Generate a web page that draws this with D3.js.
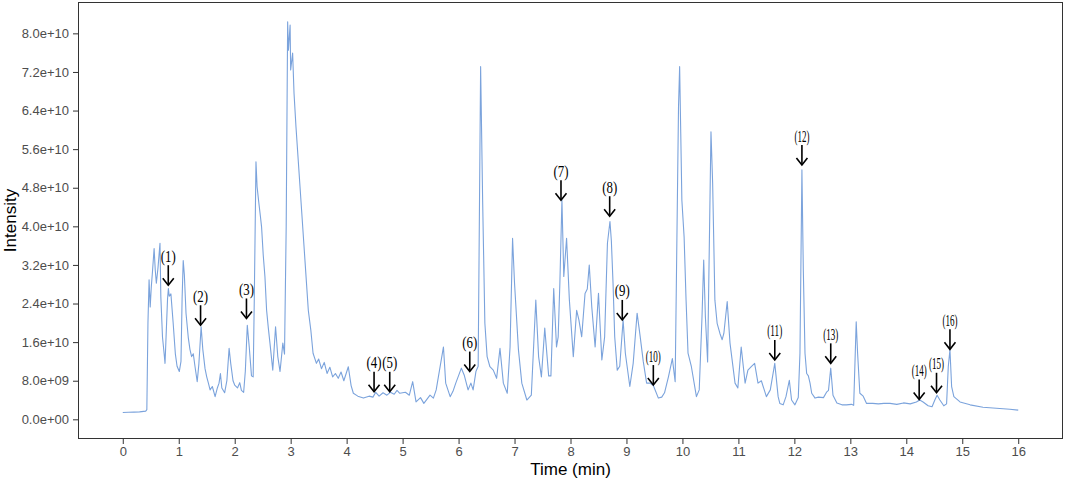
<!DOCTYPE html>
<html><head><meta charset="utf-8">
<script src="https://cdn.jsdelivr.net/npm/d3@7"></script>
<style>
body{margin:0;background:#fff;}
svg{display:block;}
</style></head>
<body>
<svg id="chart" width="1065" height="481"></svg>
<script>
// Retention time (min)
const times = [0.00,0.10,0.20,0.30,0.41,0.43,0.45,0.47,0.49,0.51,0.53,0.56,0.58,0.60,0.63,0.665,0.68,0.71,0.74,0.755,0.77,0.80,0.815,0.83,0.86,0.90,0.94,0.97,1.01,1.04,1.06,1.08,1.10,1.13,1.17,1.20,1.23,1.26,1.29,1.33,1.36,1.40,1.43,1.47,1.50,1.53,1.56,1.60,1.65,1.69,1.72,1.745,1.77,1.82,1.86,1.90,1.93,1.97,2.00,2.05,2.09,2.12,2.16,2.19,2.225,2.26,2.30,2.33,2.35,2.38,2.40,2.43,2.46,2.48,2.51,2.54,2.57,2.60,2.63,2.68,2.73,2.77,2.81,2.86,2.89,2.92,2.946,2.96,2.99,3.00,3.035,3.06,3.095,3.135,3.195,3.255,3.315,3.36,3.40,3.46,3.50,3.55,3.60,3.65,3.70,3.75,3.80,3.85,3.90,3.95,4.03,4.08,4.12,4.20,4.30,4.40,4.47,4.52,4.58,4.65,4.72,4.78,4.85,4.90,4.95,5.05,5.12,5.18,5.24,5.32,5.38,5.49,5.55,5.60,5.73,5.77,5.85,5.90,5.95,6.05,6.10,6.17,6.22,6.26,6.31,6.35,6.394,6.43,6.47,6.51,6.56,6.62,6.68,6.74,6.80,6.87,6.92,6.965,7.00,7.07,7.13,7.22,7.30,7.38,7.43,7.48,7.54,7.61,7.65,7.70,7.75,7.78,7.81,7.847,7.88,7.93,7.98,8.05,8.11,8.15,8.20,8.26,8.30,8.335,8.38,8.44,8.50,8.56,8.61,8.66,8.705,8.73,8.76,8.79,8.835,8.88,8.94,8.98,9.06,9.12,9.19,9.24,9.30,9.36,9.42,9.48,9.57,9.63,9.68,9.75,9.82,9.87,9.93,9.95,9.97,9.99,10.03,10.065,10.10,10.16,10.25,10.30,10.35,10.38,10.41,10.45,10.51,10.54,10.58,10.62,10.67,10.71,10.74,10.80,10.85,10.94,10.99,11.05,11.12,11.17,11.23,11.29,11.35,11.41,11.50,11.57,11.65,11.71,11.74,11.80,11.85,11.91,11.95,12.01,12.07,12.10,12.135,12.16,12.19,12.22,12.25,12.28,12.31,12.37,12.43,12.52,12.58,12.61,12.65,12.69,12.76,12.85,12.93,13.02,13.06,13.105,13.13,13.17,13.23,13.29,13.40,13.50,13.60,13.71,13.83,13.95,14.07,14.18,14.24,14.30,14.39,14.46,14.51,14.55,14.60,14.67,14.72,14.75,14.78,14.81,14.85,14.96,15.14,15.37,15.61,15.85,16.00];
// Intensity in units of 1e9
const intensity = [1.4,1.45,1.5,1.55,1.7,2.0,20.0,28.9,23.3,27.5,30.5,35.4,31.0,28.2,31.5,36.5,25.4,17.0,13.5,11.6,16.0,25.0,27.1,25.5,26.0,20.0,13.5,11.0,9.9,12.0,25.0,32.9,30.0,22.0,17.0,14.5,13.0,13.6,11.0,7.8,11.5,19.2,14.5,10.5,8.8,7.5,6.1,6.8,4.7,6.5,7.5,9.5,6.5,5.5,8.0,14.7,11.5,8.0,7.1,6.5,7.6,6.0,5.6,10.0,19.5,15.0,9.0,8.8,25.0,53.4,48.2,45.0,42.0,39.9,34.0,29.6,22.6,19.0,15.8,10.2,19.2,13.0,9.9,15.8,13.5,40.0,82.4,76.5,81.7,72.4,75.9,67.6,60.6,53.7,43.4,33.0,22.6,18.5,13.7,11.6,12.5,10.5,11.8,9.5,10.8,8.8,9.5,8.5,9.8,8.0,10.9,7.0,5.4,4.8,4.4,4.8,4.6,5.6,4.8,5.5,5.0,5.6,5.2,6.0,5.4,5.6,5.0,7.8,3.6,4.5,3.3,5.0,4.4,6.1,15.0,7.5,4.7,5.8,7.5,10.6,9.2,6.1,7.5,6.1,9.9,11.0,73.1,45.4,19.9,13.0,10.9,10.2,8.5,14.7,7.5,5.4,15.0,37.5,28.2,14.4,7.5,4.0,5.0,24.7,13.0,8.8,18.9,9.0,9.0,27.1,15.0,17.1,28.2,45.4,29.6,37.5,24.7,13.0,22.6,20.6,17.1,26.1,27.0,32.0,23.3,15.0,26.1,12.3,17.1,36.5,41.0,37.0,28.2,17.1,10.2,11.0,20.6,13.7,6.8,11.6,22.0,17.6,12.0,7.5,7.5,7.0,4.4,4.6,5.5,8.8,12.6,7.8,64.8,73.1,59.3,45.4,37.8,24.7,13.7,10.9,4.7,6.1,21.3,33.0,21.3,11.9,59.6,48.9,24.7,19.9,17.8,16.5,17.8,24.4,15.8,7.5,6.5,15.0,7.5,10.2,10.9,11.6,7.5,8.0,4.7,6.1,11.6,4.7,3.3,3.0,4.7,8.1,4.0,3.0,4.5,13.7,51.7,30.9,13.7,9.5,9.0,7.5,5.4,4.4,4.6,4.5,5.7,6.0,10.6,5.0,3.4,3.0,3.0,3.1,2.9,20.2,13.7,5.4,4.8,3.3,3.3,3.2,3.3,3.3,3.1,3.4,3.2,3.6,4.0,3.6,2.8,2.6,4.0,5.0,4.0,2.8,3.2,10.9,14.4,6.8,4.7,3.6,3.0,2.5,2.3,2.1,1.9];

// Axis ticks
const xTicks = [0,1,2,3,4,5,6,7,8,9,10,11,12,13,14,15,16];
const yTicks = [0,8,16,24,32,40,48,56,64,72,80];
const yTickLabels = ["0.0e+00","8.0e+09","1.6e+10","2.4e+10","3.2e+10","4.0e+10","4.8e+10","5.6e+10","6.4e+10","7.2e+10","8.0e+10"];

// Peak annotations: label, time, arrow-tip intensity (1e9)
const peakLabels = ["(1)","(2)","(3)","(4)","(5)","(6)","(7)","(8)","(9)","(10)","(11)","(12)","(13)","(14)","(15)","(16)"];
const peakTimes = [0.813,1.39,2.21,4.49,4.77,6.20,7.83,8.70,8.925,9.48,11.65,12.135,12.65,14.23,14.54,14.78];
const peakTips = [27.8,19.5,20.9,5.7,5.7,9.9,45.4,42.1,20.6,7.1,12.3,52.7,11.6,4.1,5.5,14.5];

const svg = d3.select("#chart");
const P = {left:78, top:2, right:1063, bottom:439};

const x = d3.scaleLinear().domain([-0.8, 16.8]).range([P.left, P.right]);
const y = d3.scaleLinear().domain([-4.08, 86.5]).range([P.bottom, P.top]);

// Axes
const xAxis = d3.axisBottom(x).tickValues(xTicks).tickFormat(d3.format("d")).tickSize(5).tickPadding(3).tickSizeOuter(0);
const gx = svg.append("g").attr("transform", `translate(0,${P.bottom})`).call(xAxis);
const yAxis = d3.axisLeft(y).tickValues(yTicks).tickFormat((d,i)=>yTickLabels[i]).tickSize(5).tickPadding(4).tickSizeOuter(0);
const gy = svg.append("g").attr("transform", `translate(${P.left},0)`).call(yAxis);
[gx, gy].forEach(g => {
  g.select(".domain").remove();
  g.selectAll(".tick line").attr("stroke", "#333").attr("stroke-width", 1);
  g.selectAll(".tick text").attr("fill", "#4d4d4d").style("font-family", "Liberation Sans, Arial, sans-serif").style("font-size", "13px");
});

// Data line
const data = times.map((t,i)=>({t, v:intensity[i]}));
svg.append("path")
  .datum(data)
  .attr("fill", "none")
  .attr("stroke", "#7ba3dc")
  .attr("stroke-width", 1.1)
  .attr("stroke-linejoin", "round")
  .attr("d", d3.line().x(d=>x(d.t)).y(d=>y(d.v)));

// Panel border
svg.append("rect")
  .attr("x", P.left + 0.5).attr("y", P.top + 0.5)
  .attr("width", P.right - P.left - 1).attr("height", P.bottom - P.top - 1)
  .attr("fill", "none").attr("stroke", "#333").attr("stroke-width", 1);

// Annotations
const ann = svg.append("g");
peakLabels.forEach((lab, i) => {
  const px = x(peakTimes[i]);
  const py = y(peakTips[i]);
  const g = ann.append("g");
  g.append("line").attr("x1", px).attr("x2", px).attr("y1", py - 20).attr("y2", py - 1)
    .attr("stroke", "#000").attr("stroke-width", 1.6);
  g.append("path").attr("d", `M${px-5.5},${py-7} L${px},${py} L${px+5.5},${py-7}`)
    .attr("fill", "none").attr("stroke", "#000").attr("stroke-width", 1.6);
  const t = g.append("text").attr("x", 0).attr("y", 0)
    .attr("text-anchor", "middle").attr("dominant-baseline", "central")
    .style("font-family", "Liberation Serif, DejaVu Serif, serif").style("font-size", "16px")
    .attr("fill", "#000").text(lab);
  const w = t.node().getComputedTextLength() || 17;
  const sx = Math.min(1, 15 / w);
  t.attr("transform", `translate(${px},${py - 29}) scale(${sx},1)`);
});

// Axis titles
svg.append("text").attr("x", (P.left + P.right)/2).attr("y", 469)
  .attr("text-anchor", "middle").attr("dominant-baseline", "central")
  .style("font-family", "Liberation Sans, Arial, sans-serif").style("font-size", "17px")
  .attr("fill", "#000").text("Time (min)");
svg.append("text").attr("transform", `translate(10,${(P.top + P.bottom)/2}) rotate(-90)`)
  .attr("text-anchor", "middle").attr("dominant-baseline", "central")
  .style("font-family", "Liberation Sans, Arial, sans-serif").style("font-size", "17px")
  .attr("fill", "#000").text("Intensity");
</script>
</body></html>
